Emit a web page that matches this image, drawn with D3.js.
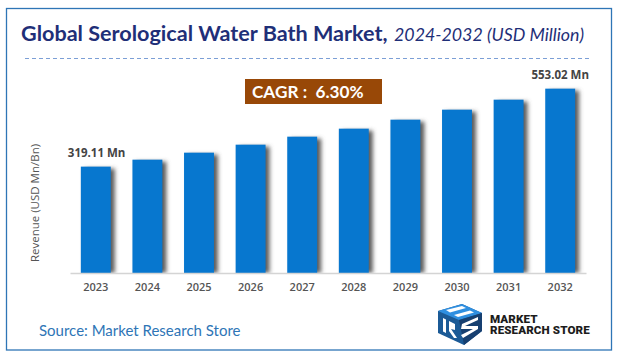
<!DOCTYPE html>
<html>
<head>
<meta charset="utf-8">
<script src="https://cdn.jsdelivr.net/npm/d3@7"></script>
<style>
html, body { margin: 0; padding: 0; background: #fff; }
svg { display: block; }
text { font-family: Lato, "Open Sans", sans-serif; }
.domain { stroke: #d4d4d4; stroke-width: 1.3; }
.tick line { display: none; }
.tick text { font-family: "Open Sans", sans-serif; font-size: 11px; font-weight: 600; fill: #555; }
</style>
</head>
<body>
<div id="chart"></div>
<script>
const WIDTH = 620;
const HEIGHT = 358;

var years = ['2023', '2024', '2025', '2026', '2027', '2028', '2029', '2030', '2031', '2032'];
var revenue = [319.11, 340, 361, 385, 409, 433, 460, 490, 520, 553.02];
var endLabels = {2023: '319.11 Mn', 2032: '553.02 Mn'};

var xScale = d3.scaleBand()
    .domain(years)
    .range([70, 586])
    .paddingInner(0.42)
    .paddingOuter(0.21);

var yScale = d3.scaleLinear()
    .domain([0, 600])
    .range([273, 73]);

var svg = d3.select('#chart').append('svg')
    .attr('width', WIDTH)
    .attr('height', HEIGHT);

var defs = svg.append('defs');
defs.append('filter')
    .attr('id', 'barShadow')
    .attr('x', '-30%').attr('y', '-10%')
    .attr('width', '160%').attr('height', '120%')
    .append('feGaussianBlur')
    .attr('stdDeviation', 1.9);

// outer frame
svg.append('rect')
    .attr('x', 6.5).attr('y', 8.5)
    .attr('width', 605).attr('height', 341.5)
    .attr('fill', '#fff')
    .attr('stroke', '#2e75b6')
    .attr('stroke-width', 1.3);

// title
var title = svg.append('text')
    .attr('x', 21).attr('y', 41)
    .attr('fill', '#1f2f78');
title.append('tspan')
    .attr('font-size', 21.6)
    .attr('font-weight', 700)
    .text('Global Serological Water Bath Market,');
title.append('tspan')
    .attr('x', 394)
    .attr('font-size', 17.8)
    .attr('font-style', 'italic')
    .text('2024-2032 (USD Million)');

svg.append('line')
    .attr('x1', 25).attr('x2', 590)
    .attr('y1', 58.5).attr('y2', 58.5)
    .attr('stroke', '#7c9fd6')
    .attr('stroke-width', 1)
    .attr('stroke-dasharray', '4 3');

// CAGR box
svg.append('rect')
    .attr('x', 245).attr('y', 79)
    .attr('width', 137).attr('height', 25)
    .attr('fill', '#984807');
svg.append('text')
    .attr('x', 252).attr('y', 98)
    .attr('fill', '#fff')
    .attr('font-size', 17.2)
    .attr('font-weight', 700)
    .attr('xml:space', 'preserve')
    .text('CAGR :  6.30%');

// shadows first so the bars sit on top
svg.append('g').selectAll('rect').data(years)
    .enter().append('rect')
    .attr('x', function (d) { return xScale(d) + 4; })
    .attr('y', function (d, i) { return yScale(revenue[i]) + 2; })
    .attr('width', xScale.bandwidth())
    .attr('height', function (d, i) { return 271 - yScale(revenue[i]); })
    .attr('fill', '#5c5c5c')
    .attr('filter', 'url(#barShadow)');

// white mask so the shadow stops at the axis
svg.append('rect')
    .attr('x', 60).attr('y', 273)
    .attr('width', 540).attr('height', 8)
    .attr('fill', '#fff');

svg.append('g').selectAll('rect').data(years)
    .enter().append('rect')
    .attr('x', function (d) { return xScale(d); })
    .attr('y', function (d, i) { return yScale(revenue[i]); })
    .attr('width', xScale.bandwidth())
    .attr('height', function (d, i) { return yScale(0) - yScale(revenue[i]); })
    .attr('fill', '#0777cf');

var xAxis = d3.axisBottom(xScale).tickSize(0).tickPadding(10);
svg.append('g')
    .attr('transform', 'translate(0,273)')
    .call(xAxis);

// first and last value labels
svg.append('g').selectAll('text').data(years.filter(function (d) { return endLabels[d]; }))
    .enter().append('text')
    .attr('x', function (d) { return xScale(d) + xScale.bandwidth() / 2 + (d === '2023' ? 0.8 : 0); })
    .attr('y', function (d) { return yScale(revenue[years.indexOf(d)]) - 10; })
    .attr('text-anchor', 'middle')
    .attr('font-size', 11.5)
    .attr('font-weight', 700)
    .attr('fill', '#444')
    .style('font-family', '"Open Sans", sans-serif')
    .text(function (d) { return endLabels[d]; });

svg.append('text')
    .attr('transform', 'translate(38.5,203) rotate(-90)')
    .attr('text-anchor', 'middle')
    .attr('font-size', 11.5)
    .attr('fill', '#555')
    .style('font-family', '"Open Sans", sans-serif')
    .text('Revenue (USD Mn/Bn)');

svg.append('text')
    .attr('x', 39).attr('y', 336)
    .attr('font-size', 15)
    .attr('fill', '#2e75b6')
    .text('Source: Market Research Store');

// logo
var logo = svg.append('g');
logo.append('path').attr('d', 'M438 311 L462 304 L482 313 L482 331 L464 345 L438 333 Z').attr('fill', '#1b5a96');
logo.append('path').attr('d', 'M438 311 L462 304 L482 313 L459 320 Z').attr('fill', '#2f8fe0');
logo.append('path').attr('d', 'M459 320 L482 313 L482 331 L464 345 Z').attr('fill', '#163f70');
logo.append('path').attr('d', 'M446 310 L462 306 L466 308 L450 312.5 Z').attr('fill', '#fff');
logo.append('path').attr('d', 'M454 315 L470 310.5 L474 312.5 L458 317 Z').attr('fill', '#fff');
logo.append('path').attr('d', 'M443 318 L446 319.5 L446 333 L443 331.5 Z').attr('fill', '#fff');
logo.append('path').attr('d', 'M449 321 L455 324 L455 330 L451 329 L457 338 L454 338 L449 331 Z').attr('fill', '#fff');
logo.append('path').attr('d', 'M462 324 L478 317 L478 320 L465 326 L478 326 L478 329 L463 338 L461 335 L473 329 L461 329 Z').attr('fill', '#fff');

// one text element, the two lines sit very tight
var logoText = svg.append('text')
    .attr('font-weight', 900)
    .attr('fill', '#1c1c1c')
    .style('font-family', 'Roboto, sans-serif');
logoText.append('tspan')
    .attr('x', 490).attr('y', 323)
    .attr('font-size', 11.6)
    .attr('letter-spacing', 0.1)
    .text('MARKET');
logoText.append('tspan')
    .attr('x', 490).attr('y', 334)
    .attr('font-size', 11.6)
    .attr('letter-spacing', 0.1)
    .text('RESEARCH STORE');
</script>
</body>
</html>
